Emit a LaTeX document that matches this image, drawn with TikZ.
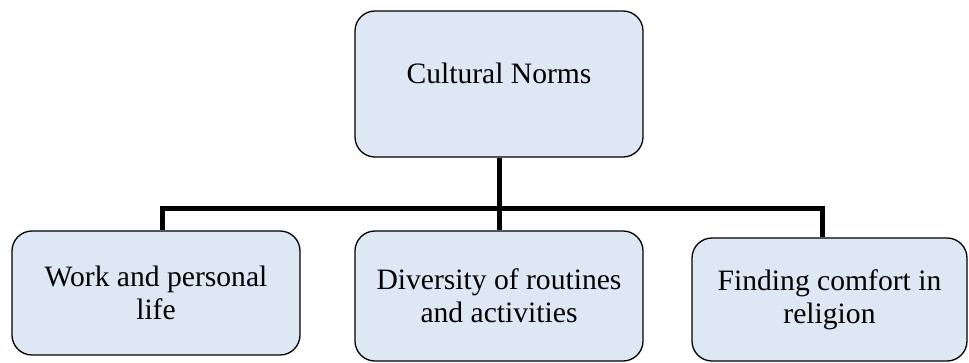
\documentclass[tikz,border=0pt]{standalone}
\usepackage{fontspec}
\setmainfont{Liberation Serif}
\newfontfamily\cardfont{Liberation Serif}
\begin{document}
\begin{tikzpicture}[x=1pt,y=-1pt,
  card/.style={draw=black, line width=1.3pt, fill=cardfill, rounded corners=20pt,
    align=center, inner sep=0pt, font=\cardfont\fontsize{29.6}{33}\selectfont},
  link/.style={draw=black, line width=5pt, line join=miter}]
\definecolor{cardfill}{HTML}{DEE8F5}
\useasboundingbox (0,0) rectangle (969,362);

% top-level concept
\node[card, minimum width=288pt, text height=72pt, text depth=74pt] (top) at (499,84) {Cultural Norms};

% three child concepts
\node[card, minimum width=288pt, minimum height=124pt] (work) at (156,293) {Work and personal\\life};
\node[card, minimum width=288pt, minimum height=130pt] (div) at (499,296) {Diversity of routines\\and activities};
\node[card, minimum width=275pt, minimum height=123pt] (relig) at (829.5,299.5) {Finding comfort in\\religion};

% bus line joining the children
\coordinate (bl) at (162,208);
\coordinate (br) at (822,208);
\draw[link] (bl |- work.north) -- (bl) -- (br) -- (br |- relig.north);
\draw[link] (top.south) -- (top.south |- bl) -- (div.north);
\end{tikzpicture}
\end{document}
